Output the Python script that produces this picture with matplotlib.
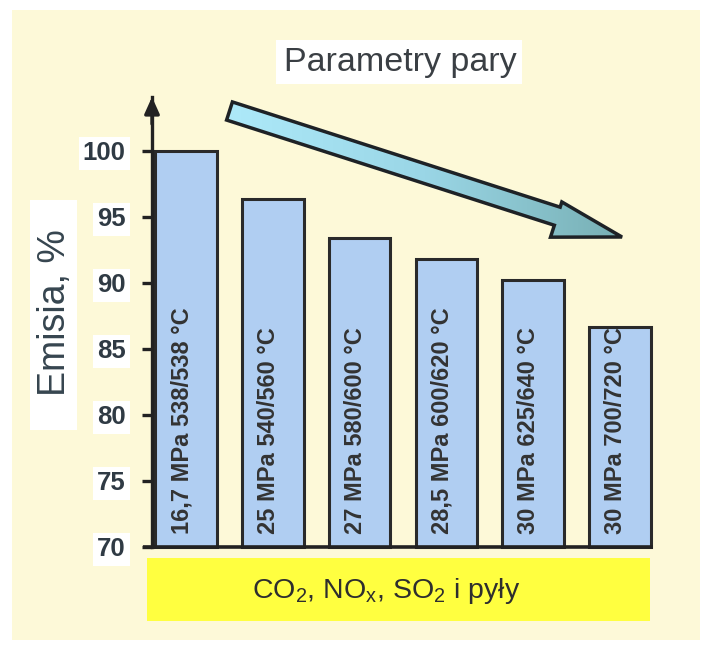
import numpy as np
import matplotlib
matplotlib.use("Agg")
import matplotlib.pyplot as plt
from matplotlib.patches import Rectangle, Polygon
from matplotlib.colors import LinearSegmentedColormap

plt.rcParams['font.family'] = ['Liberation Sans', 'DejaVu Sans']
plt.rcParams['mathtext.fontset'] = 'custom'
plt.rcParams['mathtext.rm'] = 'Liberation Sans'
plt.rcParams['mathtext.it'] = 'Liberation Sans'

# ---- data ----
bar_labels = ["16,7 MPa 538/538 °C", "25 MPa 540/560 °C", "27 MPa 580/600 °C",
              "28,5 MPa 600/620 °C", "30 MPa 625/640 °C", "30 MPa 700/720 °C"]
emission = [100.0, 96.4, 93.4, 91.8, 90.2, 86.7]
yticks = [70, 75, 80, 85, 90, 95, 100]
title_text = "Parametry pary"
ylabel_text = "Emisia, %"
bottom_text = "CO$_2$, NO$_\\mathrm{x}$, SO$_2$ i pyły"

W, H = 707, 648
fig = plt.figure(figsize=(W / 100, H / 100), dpi=100)
fig.patch.set_facecolor('white')

# background overlay in pixel coordinates
bg = fig.add_axes([0, 0, 1, 1], zorder=0)
bg.set_xlim(0, W)
bg.set_ylim(H, 0)
bg.axis('off')

cream = '#fdf9d8'
bg.add_patch(Rectangle((12, 10), 688, 630, facecolor=cream, edgecolor='none'))

# title box
bg.add_patch(Rectangle((276, 40), 246, 44, facecolor='white', edgecolor='none'))
bg.text(400, 62, title_text, fontsize=24.5, color='#3a3f44', ha='center', va='center')

# ylabel box
bg.add_patch(Rectangle((30, 200), 47, 230, facecolor='white', edgecolor='none'))
bg.text(55, 313, ylabel_text, fontsize=27, color='#36454f', rotation=90,
        ha='center', va='center')

# yellow box
bg.add_patch(Rectangle((147, 558), 503, 63, facecolor='#ffff40', edgecolor='none'))
bg.text(386, 591, bottom_text, fontsize=20.5, color='#2e2e2e', ha='center', va='center')

# big trend arrow (decoration)
tail = np.array([229.5, 111.0])
tip = np.array([622.0, 237.0])
d = tip - tail
L = np.hypot(*d)
u = d / L
n = np.array([-u[1], u[0]])
sw, hw_up, hw_dn, hl = 9.5, 15.0, 22.0, 68.0
pts = [tail + n * sw, tail + u * (L - hl) + n * sw, tail + u * (L - hl) + n * hw_dn,
       tip, tail + u * (L - hl) - n * hw_up, tail + u * (L - hl) - n * sw, tail - n * sw]
poly = Polygon(pts, closed=True, facecolor='none', edgecolor='#1e2226', lw=2.5, zorder=3)
bg.add_patch(poly)
clip = Polygon(pts, closed=True, transform=bg.transData, facecolor='none', edgecolor='none')
bg.add_patch(clip)
grad = np.linspace(0, 1, 256).reshape(1, -1)
cmap = LinearSegmentedColormap.from_list('arr', ['#aeeafa', '#9ad6e6', '#76aeb2'])
im = bg.imshow(grad, cmap=cmap, extent=(220, 630, 260, 90), aspect='auto', zorder=2)
im.set_clip_path(clip)
bg.set_xlim(0, W)
bg.set_ylim(H, 0)

# main chart axes
x_left_px, x_right_px = 152, 653
y_bot_px, y_top_px = 547, 97
ax = fig.add_axes([x_left_px / W, (H - y_bot_px) / H,
                   (x_right_px - x_left_px) / W, (y_bot_px - y_top_px) / H], zorder=1)
ax.patch.set_alpha(0)

ymin = yticks[0]
spacing = 86.8
first_center = 186.0
x = np.arange(len(emission))
ax.bar(x, np.array(emission) - ymin, width=0.71, bottom=ymin, color='#b0cef2',
       edgecolor='#2a2a2a', linewidth=2.2, zorder=2, clip_on=False)
ax.set_xlim((x_left_px - first_center) / spacing, (x_right_px - first_center) / spacing)
ax.set_ylim(ymin, 100 + (151 - y_top_px) / 13.2)

for xi, lab in zip(x, bar_labels):
    ax.text(xi - 0.05, 71.0, lab, rotation=90, ha='center', va='bottom',
            fontsize=17, fontweight='bold', color='#333333', zorder=3)

for s in ['top', 'right', 'bottom']:
    ax.spines[s].set_visible(False)
ax.spines['left'].set_linewidth(2.4)
ax.spines['left'].set_color('#222222')
ax.spines['left'].set_zorder(4)

# baseline slightly extending left of y-axis
ax.plot([-9 / (x_right_px - x_left_px), 1.0], [0, 0], transform=ax.transAxes,
        color='#222222', lw=2.6, clip_on=False, zorder=4, solid_capstyle='butt')

# y-axis arrow head
ax.annotate('', xy=(0, 1.0), xycoords='axes fraction', xytext=(0, 0.94),
            arrowprops=dict(arrowstyle='-|>,head_length=1.0,head_width=0.45',
                            color='#222222', lw=2.4, shrinkA=0, shrinkB=0))

ax.set_xticks([])
ax.set_yticks(yticks)
ax.set_yticklabels([str(t) for t in yticks])
ax.tick_params(axis='y', length=7, width=2.4, color='#222222', pad=12,
               labelsize=18.5, labelcolor='#2f3a44')
for tl in ax.get_yticklabels():
    tl.set_fontweight('bold')
    tl.set_bbox(dict(facecolor='white', edgecolor='none', pad=3))

fig.savefig('out.png', dpi=100, facecolor=fig.get_facecolor())
